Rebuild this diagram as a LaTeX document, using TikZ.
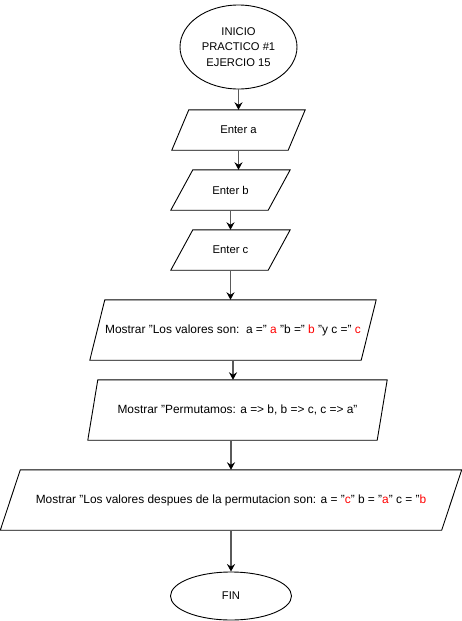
\documentclass[tikz,border=0pt]{standalone}
\usepackage{fontspec}
\setmainfont{Liberation Sans}
\usetikzlibrary{shapes.geometric,arrows.meta}
\definecolor{linegray}{RGB}{90,90,90}
\definecolor{redtxt}{RGB}{255,0,0}
\newcommand{\rd}[1]{\textcolor{redtxt}{#1}}
\newcommand{\paral}[2]{\draw[shapeline] ([xshift=#2pt]#1.north west) -- (#1.north east) -- ([xshift=-#2pt]#1.south east) -- (#1.south west) -- cycle;}
\tikzset{
  shapeline/.style={draw=black, line width=0.9pt},
  oval/.style={ellipse, shapeline, inner sep=0pt, align=center, font=\fontsize{11.2}{15.5}\selectfont},
  iobox/.style={rectangle, draw=none, inner sep=0pt, align=center, font=\fontsize{11.3}{14}\selectfont},
  bigbox/.style={iobox, font=\fontsize{11.9}{14}\selectfont},
  flow/.style={draw=linegray, line width=1.6pt, -{Stealth[length=7.5pt,width=8pt,inset=2.5pt,black]}}
}
\begin{document}
\begin{tikzpicture}[x=1pt,y=-1pt]
\useasboundingbox (0,0) rectangle (462,621);
\node[oval, minimum width=117pt, minimum height=84pt] (start) at (238.5,47) {INICIO\\PRACTICO \#1\\EJERCIO 15};
\node[iobox, minimum width=133pt, minimum height=40pt] (ea) at (238.5,130) {Enter a};
\node[iobox, minimum width=119pt, minimum height=40pt] (eb) at (230.5,190) {Enter b};
\node[iobox, minimum width=119pt, minimum height=40pt] (ec) at (230.5,250) {Enter c};
\node[bigbox, minimum width=286pt, minimum height=60pt] (m1) at (233,330) {Mostrar "Los valores son:\ \ a =" \rd{a} "b =" \rd{b} "y c =" \rd{c}};
\node[bigbox, minimum width=299pt, minimum height=60pt] (m2) at (237.5,410) {Mostrar "Permutamos: a => b, b => c, c => a"};
\node[bigbox, minimum width=461pt, minimum height=60pt] (m3) at (231,500) {Mostrar "Los valores despues de la permutacion son: a = "\rd{c}" b = "\rd{a}" c = "\rd{b}};
\node[oval, minimum width=121pt, minimum height=48pt] (fin) at (231,596) {FIN};
\paral{ea}{17}
\paral{eb}{22}
\paral{ec}{22}
\paral{m1}{15}
\paral{m2}{10}
\paral{m3}{20}
\draw[flow] (start.south) -- (start.south |- ea.north);
\draw[flow] (ea.south) -- (ea.south |- eb.north);
\draw[flow] (eb.south) -- (eb.south |- ec.north);
\draw[flow] (ec.south) -- (ec.south |- m1.north);
\draw[flow] (m1.south) -- (m1.south |- m2.north);
\draw[flow] (m2.south -| m3.north) -- (m3.north);
\draw[flow] (m3.south) -- (fin.north);
\end{tikzpicture}
\end{document}
